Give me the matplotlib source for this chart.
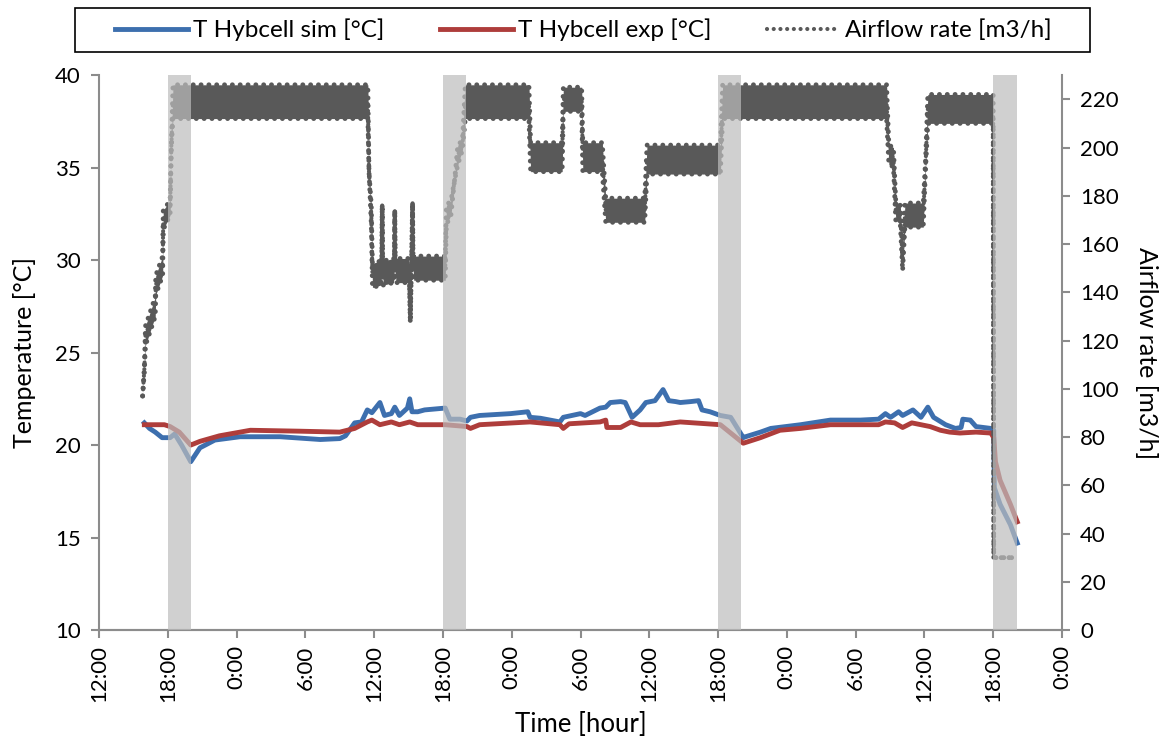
import numpy as np
import matplotlib
matplotlib.use("Agg")
import matplotlib.pyplot as plt
from matplotlib.patches import Rectangle

plt.rcParams['font.family'] = ['Lato', 'DejaVu Sans']

# time in hours, counted from 12:00 on the first day
sim_t = [3.95, 4.4, 4.9, 5.5, 6.2, 6.6, 7.2, 8.0, 8.8, 10.1, 12.3, 15.8, 19.3, 21.0,
         21.5, 22.3, 22.9, 23.4, 23.8, 24.5, 24.9, 25.5, 25.8, 26.2, 26.9, 27.1, 27.3,
         27.8, 28.4, 30.2, 30.6, 31.5, 32.1, 32.4, 33.2, 35.9, 37.4, 37.6, 38.5, 40.2,
         40.5, 42.0, 42.4, 43.7, 44.2, 44.6, 45.5, 45.9, 46.5, 47.2, 47.7, 48.5, 49.2,
         49.7, 50.3, 50.7, 51.6, 52.3, 52.6, 53.3, 54.2, 55.1, 56.2, 56.4, 57.7, 58.6,
         61.2, 63.8, 66.4, 68.0, 68.6, 69.05, 69.75, 70.1, 71.0, 71.7, 72.3, 72.8, 73.85,
         74.7, 75.2, 75.35, 76.0, 76.5, 77.8, 78.05, 78.1, 78.6, 79.5, 80.1]
sim_T = [21.2, 20.9, 20.7, 20.4, 20.4, 20.6, 20.0, 19.1, 19.85, 20.27, 20.45, 20.45, 20.3, 20.35,
         20.5, 21.2, 21.25, 21.9, 21.75, 22.3, 21.6, 21.7, 22.05, 21.6, 22.0, 22.5, 21.8,
         21.8, 21.9, 22.0, 21.4, 21.4, 21.3, 21.5, 21.6, 21.7, 21.8, 21.5, 21.45, 21.25,
         21.5, 21.7, 21.6, 22.0, 22.05, 22.3, 22.35, 22.3, 21.5, 21.9, 22.3, 22.4, 23.0,
         22.4, 22.35, 22.3, 22.35, 22.4, 21.9, 21.8, 21.6, 21.5, 20.4, 20.45, 20.7, 20.9,
         21.1, 21.35, 21.35, 21.4, 21.7, 21.5, 21.8, 21.6, 21.9, 21.5, 22.05, 21.5, 21.1,
         20.9, 20.95, 21.4, 21.35, 21.0, 20.9, 20.8, 17.7, 16.8, 15.7, 14.7]

exp_t = [3.95, 5.7, 6.2, 7.0, 8.0, 8.8, 10.5, 13.2, 17.5, 21.0, 22.3, 23.4, 23.8, 24.5,
         25.5, 26.2, 27.1, 27.8, 30.2, 32.1, 32.4, 33.2, 37.6, 40.2, 40.5, 41.0, 43.7,
         44.2, 44.3, 45.5, 46.4, 47.2, 48.8, 50.7, 54.2, 56.2, 57.7, 59.4, 61.2, 63.8,
         68.0, 68.6, 69.4, 70.1, 70.9, 72.5, 73.4, 74.2, 75.1, 76.5, 77.8, 78.05, 78.2,
         78.6, 79.5, 80.1]
exp_T = [21.1, 21.1, 21.0, 20.7, 20.0, 20.2, 20.5, 20.8, 20.75, 20.7, 20.9, 21.25, 21.35, 21.1,
         21.25, 21.1, 21.25, 21.1, 21.1, 21.0, 20.9, 21.1, 21.25, 21.1, 20.9, 21.15, 21.25,
         21.35, 20.95, 20.95, 21.25, 21.1, 21.1, 21.25, 21.1, 20.1, 20.4, 20.8, 20.9, 21.1,
         21.1, 21.25, 21.2, 20.95, 21.2, 21.0, 20.8, 20.7, 20.65, 20.7, 20.65, 20.4, 19.1,
         18.1, 16.8, 15.85]

# airflow: centre of the measured cloud and its half spread
air_t = [3.8, 3.95, 4.05, 4.9, 4.95, 5.55, 5.6, 6.2, 6.3, 6.45, 23.45, 23.55, 23.75, 23.85,
         24.6, 24.65, 24.7, 24.75, 24.8, 25.7, 25.75, 25.8, 25.85, 25.9, 27.0, 27.05,
         27.15, 27.25, 27.35, 27.4, 27.45, 30.2, 30.3, 30.7,
         31.0, 31.3, 31.7, 31.95, 37.5, 37.65, 40.4, 40.5, 42.1, 42.2, 43.9, 44.2, 47.6,
         47.8, 54.2, 54.4, 68.7, 68.9, 69.3, 69.5, 69.9, 70.1, 70.3, 71.9, 72.1, 72.3,
         78.0, 78.05, 79.7]
air_v = [97, 108, 122, 134, 143, 151, 170, 175, 200, 219, 219, 190, 172, 147,
         148, 148, 176, 148, 148, 149, 149, 174, 149, 149, 149, 149,
         128, 150, 177, 150, 150, 150, 172, 175,
         186, 197, 201, 219, 219, 196, 196, 220, 220, 196, 196, 174, 174,
         195, 195, 219, 219, 197, 196, 174, 172, 152, 172, 172, 193, 216,
         216, 30, 30]
air_dv = [0, 1, 4, 4, 4, 4, 4, 3, 0, 7, 7, 0, 4, 5,
          5, 0, 0, 0, 5, 5, 0, 0, 0, 5, 5, 0,
          0, 0, 0, 0, 5, 5, 4, 3,
          0, 4, 2, 7, 7, 6, 6, 5, 5, 6, 6, 5, 5,
          6, 6, 7, 7, 4, 4, 4, 4, 3, 5, 5, 2, 6,
          6, 0, 0]

band_start = [18.0, 42.0, 66.0, 90.0]
band_end = [20.0, 44.0, 68.0, 92.1]
band_start = [h - 12 for h in band_start]
band_end = [h - 12 for h in band_end]

tick_pos = list(range(0, 85, 6))
tick_lab = ["12:00", "18:00", "0:00", "6:00"] * 3 + ["12:00", "18:00", "0:00"]

c_sim = '#3d6fae'
c_exp = '#ae3d3b'
c_air = '#595959'
c_axis = '#8c8c8c'
fs = 16
dots = (0, (0.01, 1.6))

fig = plt.figure(figsize=(11.75, 7.44), dpi=100)
ax = fig.add_axes([0.0843, 0.1532, 0.8195, 0.7458])
ax2 = ax.twinx()

ax.plot(sim_t, sim_T, color=c_sim, lw=3.5, solid_joinstyle='round', label='T Hybcell sim [°C]')
ax.plot(exp_t, exp_T, color=c_exp, lw=3.5, solid_joinstyle='round', label='T Hybcell exp [°C]')

air_v = np.array(air_v, dtype=float)
air_dv = np.array(air_dv, dtype=float)
ax2.fill_between(air_t, air_v - air_dv, air_v + air_dv, color=c_air, lw=0, zorder=2)
ax2.plot(air_t, air_v + air_dv, color=c_air, lw=3.5, linestyle=dots, dash_capstyle='round', zorder=2)
ax2.plot(air_t, air_v - air_dv, color=c_air, lw=3.5, linestyle=dots, dash_capstyle='round', zorder=2)
ax2.plot(air_t, air_v, color=c_air, lw=3, linestyle=dots,
         dash_capstyle='round', zorder=3, label='Airflow rate [m3/h]')

for s, e in zip(band_start, band_end):
    ax2.axvspan(s, e, color='#bdbdbd', alpha=0.7, lw=0, zorder=10)

ax.set_xlim(0, 84)
ax.set_ylim(10, 40)
ax2.set_ylim(0, 230)
ax.set_yticks([10, 15, 20, 25, 30, 35, 40])
ax2.set_yticks(list(range(0, 221, 20)))
ax.set_xticks(tick_pos)
ax.set_xticklabels(tick_lab, rotation=90)

for a in (ax, ax2):
    for sp in a.spines.values():
        sp.set_color(c_axis)
        sp.set_linewidth(1.5)
    a.spines['top'].set_visible(False)
    a.tick_params(colors=c_axis, labelcolor='black', labelsize=fs, width=1.5, length=6, pad=7)
ax.tick_params(axis='x', pad=5)
ax2.spines['left'].set_visible(False)
ax.spines['right'].set_visible(False)

ax.set_ylabel('Temperature [°C]', fontsize=18, labelpad=14)
ax2.set_ylabel('Airflow rate [m3/h]', fontsize=18, rotation=270, labelpad=28)
ax.set_xlabel('Time [hour]', fontsize=18.5)
ax.xaxis.set_label_coords(0.5, -0.148)

h1, l1 = ax.get_legend_handles_labels()
h2, l2 = ax2.get_legend_handles_labels()
fig.patches.append(Rectangle((0.0638, 0.9301), 0.8638, 0.0591, transform=fig.transFigure,
                             fill=False, edgecolor='black', lw=1.2))
leg = fig.legend(h1 + h2, l1 + l2, loc='center', ncol=3, fontsize=17.5,
                 bbox_to_anchor=(0.4966, 0.9597), frameon=False,
                 handlelength=3.0, handletextpad=0.2, columnspacing=2.3)

fig.savefig('out.png', dpi=100)
